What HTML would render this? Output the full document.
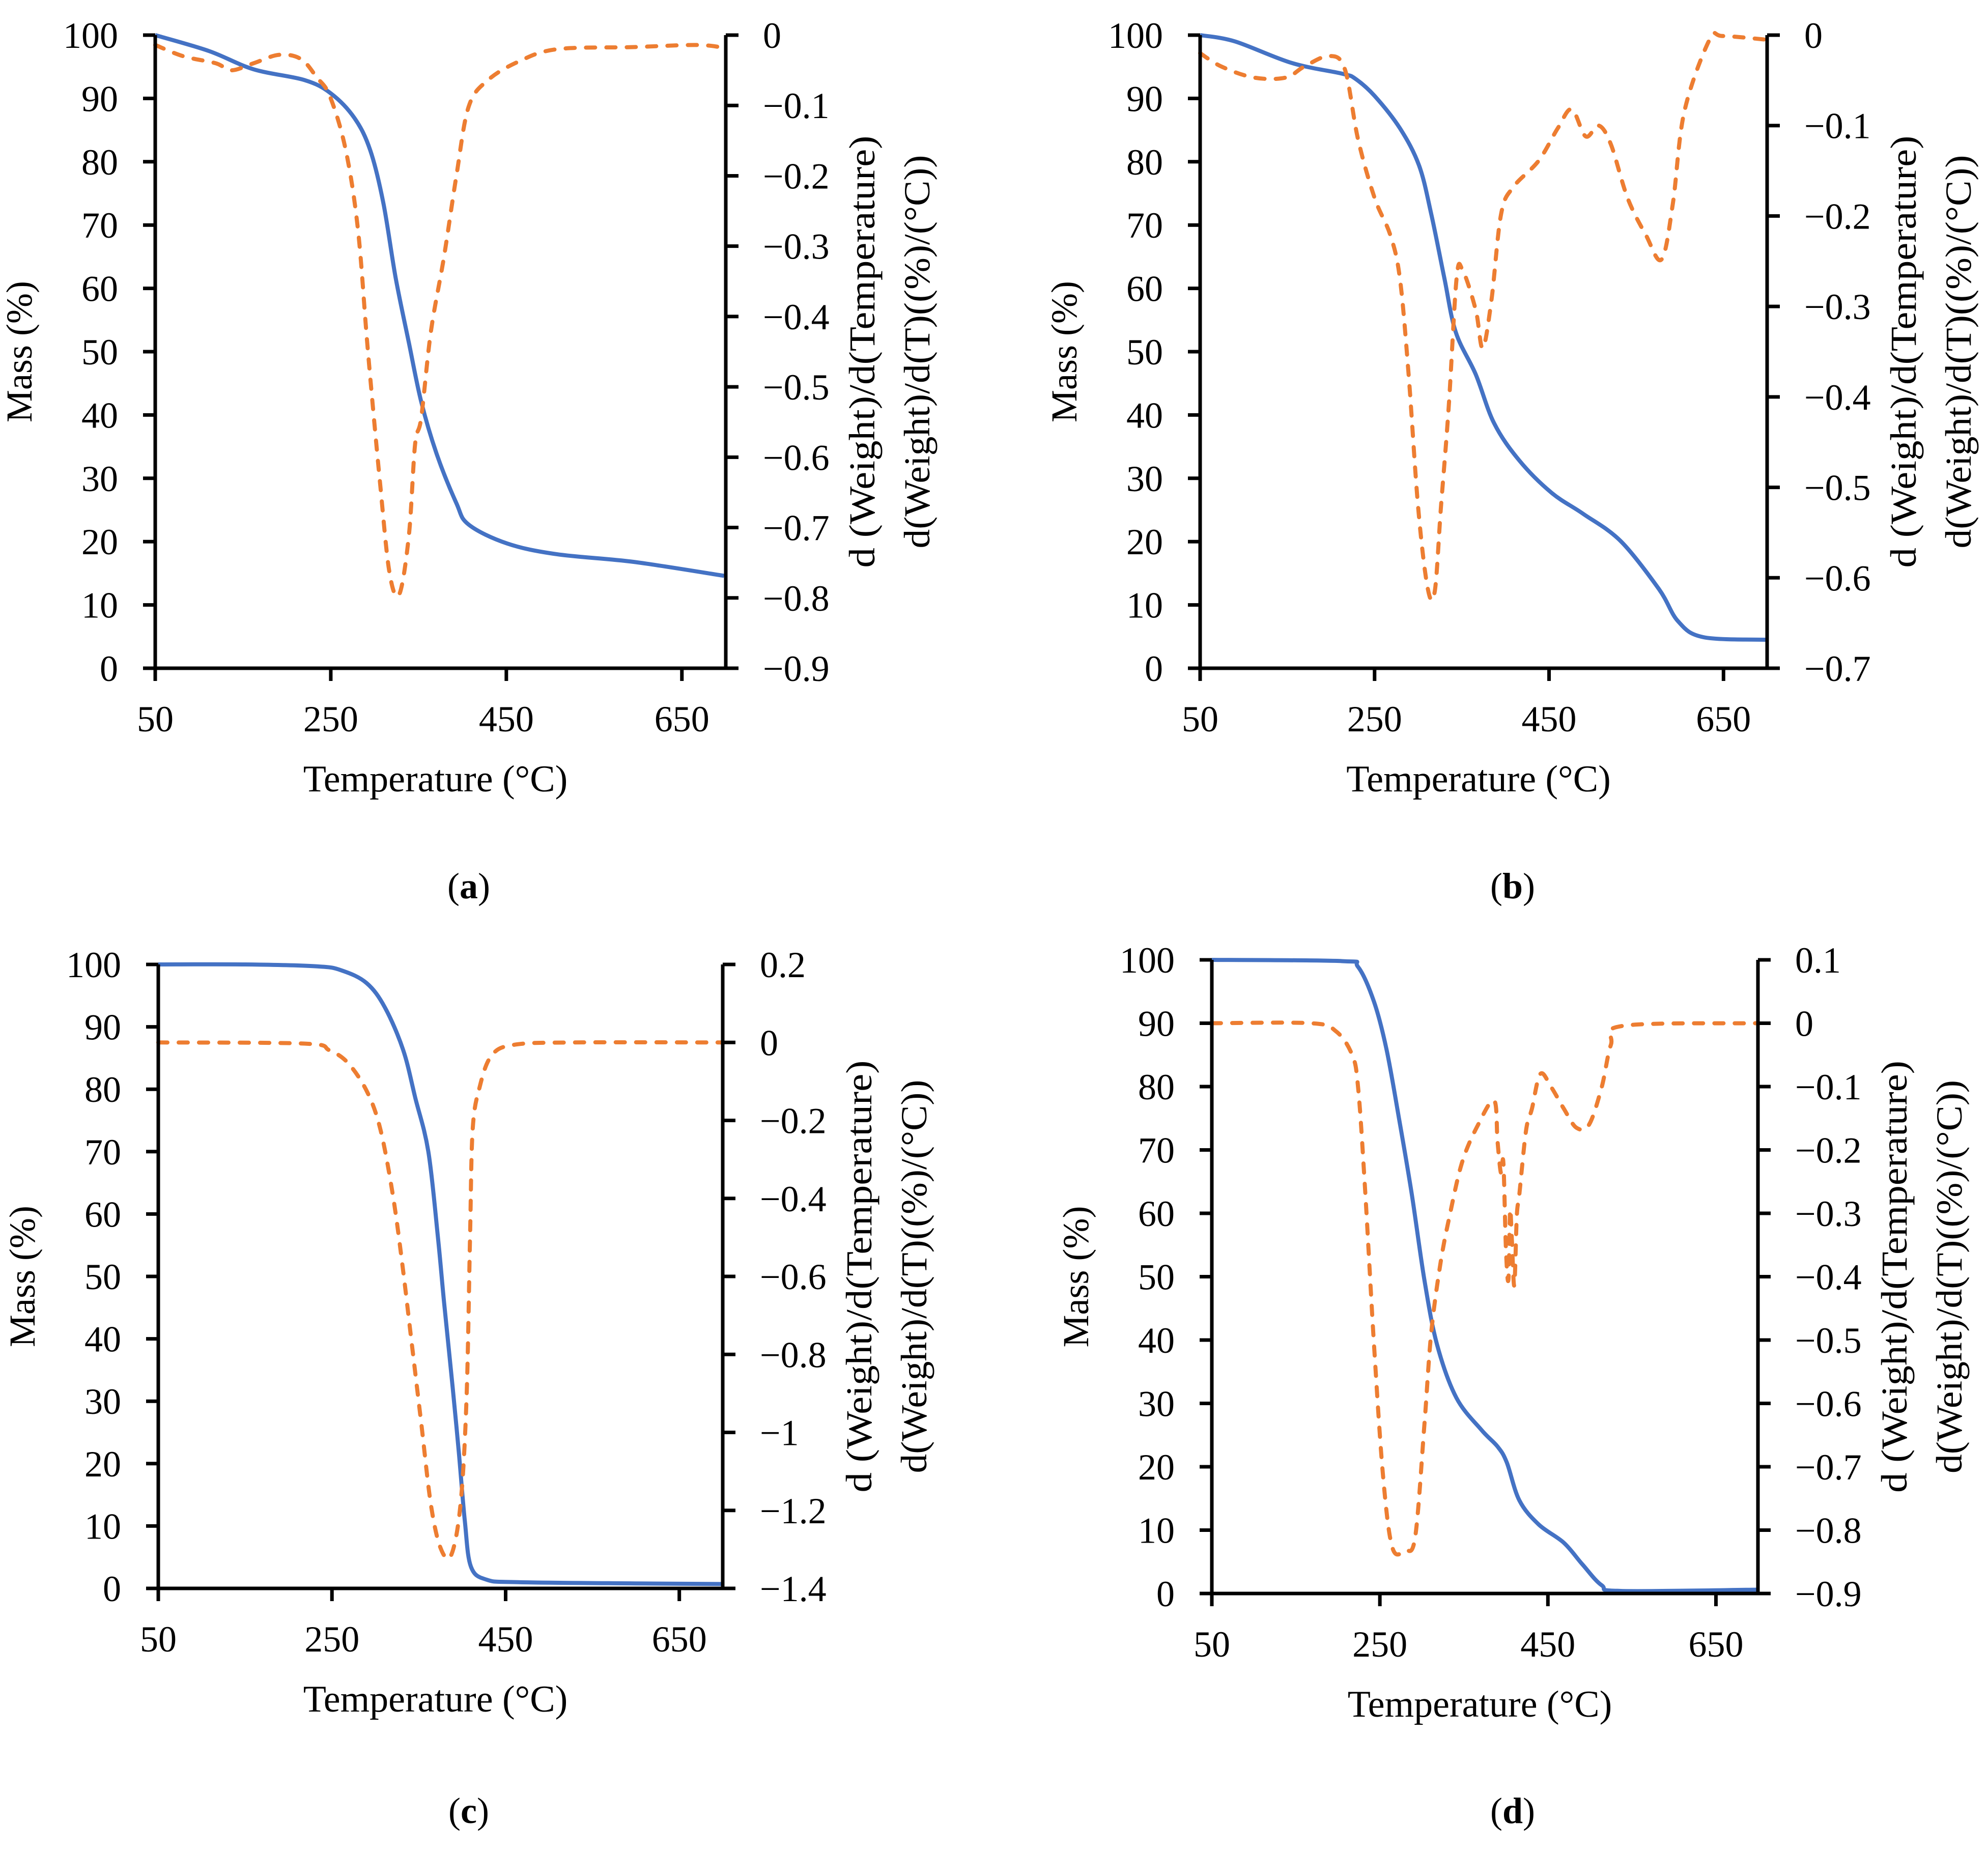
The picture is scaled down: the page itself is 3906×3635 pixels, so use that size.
<!DOCTYPE html>
<html><head><meta charset="utf-8"><style>
html,body{margin:0;padding:0;background:#fff;}
svg{display:block;font-family:"Liberation Serif",serif;}
</style></head><body>
<svg id="fig" xmlns="http://www.w3.org/2000/svg" width="3906" height="3635" viewBox="0 0 3906 3635"></svg>
<script>
// Panel (a)
const aMassT=[50,111,162,220,250,277,295,310,324,339,353,371,393,407,451,508,595,698];
const aMass=[100,97.5,94.6,92.9,90.8,86.9,81.8,73.4,61.6,51.4,42.1,33.7,26.1,22.7,19.7,18,16.8,14.6];
const aDtgT=[50,82,119,137,162,191,216,234,249,267,281,292,306,317,328,339,346,353,364,379,393,407,429,465,508,595,667,698];
const aDtg=[-0.014,-0.03,-0.04,-0.05,-0.04,-0.028,-0.034,-0.06,-0.087,-0.163,-0.277,-0.445,-0.635,-0.765,-0.795,-0.711,-0.582,-0.544,-0.422,-0.315,-0.201,-0.102,-0.064,-0.037,-0.02,-0.017,-0.014,-0.018];
const aRightTicks=[0,-0.1,-0.2,-0.3,-0.4,-0.5,-0.6,-0.7,-0.8,-0.9];
// Panel (b)
const bMassT=[50,90,155,213,228,250,279,301,315,330,343,366,387,416,453,489,532,576,598,627,699];
const bMass=[100,99,95.6,93.9,93.1,90.4,85.3,79.4,71.7,61.6,53.1,46.4,38.7,32.8,27.7,24.4,20.1,12.5,7.4,4.9,4.5];
const bDtgT=[50,75,112,148,169,198,216,231,250,268,279,289,300,311,319,326,335,344,351,366,374,384,395,409,438,460,476,492,507,521,540,561,579,592,605,634,649,699];
const bDtg=[-0.02,-0.035,-0.047,-0.047,-0.035,-0.023,-0.038,-0.115,-0.18,-0.221,-0.269,-0.375,-0.523,-0.612,-0.615,-0.523,-0.411,-0.269,-0.26,-0.304,-0.346,-0.293,-0.198,-0.168,-0.139,-0.103,-0.082,-0.112,-0.1,-0.121,-0.18,-0.221,-0.248,-0.186,-0.085,-0.005,-0.001,-0.005];
const bRightTicks=[0,-0.1,-0.2,-0.3,-0.4,-0.5,-0.6,-0.7];
// Panel (c)
const cMassT=[50,150,233,262,290,311,332,346,361,372,379,389,396,403,410,428,464,599,701];
const cMass=[100,100,99.7,99,97,93.1,86.3,78.6,70,56.3,46,32.2,22,10.8,3.5,1.4,1,0.8,0.7];
const cDtgT=[50,218,247,269,291,306,320,331,342,353,364,375,387,398,405,409,412,420,434,460,526,701];
const cDtg=[0,-0.003,-0.02,-0.054,-0.129,-0.225,-0.39,-0.568,-0.774,-0.98,-1.186,-1.296,-1.316,-1.186,-0.911,-0.5,-0.225,-0.115,-0.033,-0.006,0,0];
const cRightTicks=[0.2,0,-0.2,-0.4,-0.6,-0.8,-1,-1.2,-1.4];
// Panel (d)
const dMassT=[50,205,224,243,258,273,288,303,318,341,371,390,401,416,439,469,491,514,537,699];
const dMass=[100,99.8,98.9,93.4,85.8,74.8,63,49.5,39.3,30.9,25.8,23.2,20.7,14.7,10.9,8,4.6,1.3,0.4,0.6];
const dDtgT=[50,168,198,217,224,232,243,254,265,280,292,303,311,322,333,348,367,386,390,394,397,400,403,405,407,410,413,416,424,431,441,454,469,484,499,514,525,540,699];
const dDtg=[0,0,-0.013,-0.05,-0.1,-0.253,-0.507,-0.718,-0.828,-0.832,-0.811,-0.634,-0.49,-0.38,-0.304,-0.219,-0.16,-0.122,-0.186,-0.236,-0.22,-0.355,-0.405,-0.296,-0.338,-0.414,-0.304,-0.27,-0.169,-0.135,-0.08,-0.101,-0.135,-0.165,-0.16,-0.101,-0.034,-0.004,0];
const dRightTicks=[0.1,0,-0.1,-0.2,-0.3,-0.4,-0.5,-0.6,-0.7,-0.8,-0.9];

const leftTicks=[0,10,20,30,40,50,60,70,80,90,100];
const xTicks=[50,250,450,650];

const NS="http://www.w3.org/2000/svg";
const svg=document.getElementById('fig');
function mk(tag,attrs,parent){const e=document.createElementNS(NS,tag);for(const k in attrs)e.setAttribute(k,attrs[k]);(parent||svg).appendChild(e);return e;}
function fmt(v){if(Math.abs(v)<1e-9)return "0";let s=String(Math.round(v*10)/10);return s.replace('-','\u2212');}
function smooth(pts){
  let d='M'+pts[0][0].toFixed(1)+' '+pts[0][1].toFixed(1);
  for(let i=0;i<pts.length-1;i++){
    const p0=pts[Math.max(0,i-1)],p1=pts[i],p2=pts[i+1],p3=pts[Math.min(pts.length-1,i+2)];
    const k=1/6;
    const c1=[p1[0]+(p2[0]-p0[0])*k,p1[1]+(p2[1]-p0[1])*k];
    const c2=[p2[0]-(p3[0]-p1[0])*k,p2[1]-(p3[1]-p1[1])*k];
    d+=`C${c1[0].toFixed(1)} ${c1[1].toFixed(1)} ${c2[0].toFixed(1)} ${c2[1].toFixed(1)} ${p2[0].toFixed(1)} ${p2[1].toFixed(1)}`;
  }
  return d;
}

function panel(id,L,R,T,B,rMax,rMin,rTicks,mT,mV,dT,dV,cap,capX,capY){
  const g=mk('g',{});
  
  
  const xs=t=>L+(t-50)/650*(R-L);
  const ys=v=>B-v/100*(B-T);
  const yr=v=>T+(rMax-v)/(rMax-rMin)*(B-T);
  const mp=mk('path',{d:smooth(mT.map((t,i)=>[xs(t),ys(mV[i])])),fill:'none',stroke:'#4472C4','stroke-width':8,'stroke-linejoin':'round'},g);
  
  
  const dp=mk('path',{d:smooth(dT.map((t,i)=>[xs(t),yr(dV[i])])),fill:'none',stroke:'#ED7D31','stroke-width':8,'stroke-dasharray':'18 22','stroke-linecap':'round','stroke-linejoin':'round'},g);
  
  
  const ax=mk('path',{d:`M${L} ${T}V${B}H${R}M${R} ${T}V${B}`,fill:'none',stroke:'#000','stroke-width':7},g);
  
  
  leftTicks.forEach(v=>{const y=ys(v);
    mk('line',{x1:L-24,x2:L,y1:y,y2:y,stroke:'#000','stroke-width':7},g);
    const t=mk('text',{x:L-73,y:y+25,'text-anchor':'end','font-size':72},g);t.textContent=v;
    
    });
  rTicks.forEach(v=>{const y=yr(v);
    mk('line',{x1:R,x2:R+25,y1:y,y2:y,stroke:'#000','stroke-width':7},g);
    const t=mk('text',{x:R+73,y:y+25,'font-size':72},g);t.textContent=fmt(v);
    
    });
  xTicks.forEach(v=>{const x=xs(v);
    mk('line',{x1:x,x2:x,y1:B,y2:B+25,stroke:'#000','stroke-width':7},g);
    const t=mk('text',{x:x,y:B+124,'text-anchor':'middle','font-size':72},g);t.textContent=v;
    
    });
  const cy=(T+B)/2;
  const xl=mk('text',{x:(L+R)/2-10,y:B+242,'text-anchor':'middle','font-size':74},g);xl.textContent='Temperature (°C)';
  
  
  const yl=mk('text',{x:0,y:0,'text-anchor':'middle','font-size':72,transform:`translate(${L-243},${cy}) rotate(-90)`},g);yl.textContent='Mass (%)';
  
  
  const r1=mk('text',{x:0,y:0,'text-anchor':'middle','font-size':72,textLength:849,lengthAdjust:'spacingAndGlyphs',transform:`translate(${R+292},${cy}) rotate(-90)`},g);r1.textContent='d (Weight)/d(Temperature)';
  
  
  const r2=mk('text',{x:0,y:0,'text-anchor':'middle','font-size':72,textLength:773,lengthAdjust:'spacingAndGlyphs',transform:`translate(${R+400},${cy}) rotate(-90)`},g);r2.textContent='d(Weight)/d(T)((%)/(°C))';
  
  
  const c=mk('text',{x:capX,y:capY,'text-anchor':'middle','font-size':72},g);
  c.innerHTML='(<tspan font-weight="bold">'+cap+'</tspan>)';
  
  
}
panel('a',305,1426,69,1313,0,-0.9,aRightTicks,aMassT,aMass,aDtgT,aDtg,'a',921,1765);
panel('b',2358,3472,69,1313,0,-0.7,bRightTicks,bMassT,bMass,bDtgT,bDtg,'b',2972,1765);
panel('c',311,1420,1895,3121,0.2,-1.4,cRightTicks,cMassT,cMass,cDtgT,cDtg,'c',921,3582);
panel('d',2381,3454,1886,3131,0.1,-0.9,dRightTicks,dMassT,dMass,dDtgT,dDtg,'d',2972,3582);
</script>
</body></html>
